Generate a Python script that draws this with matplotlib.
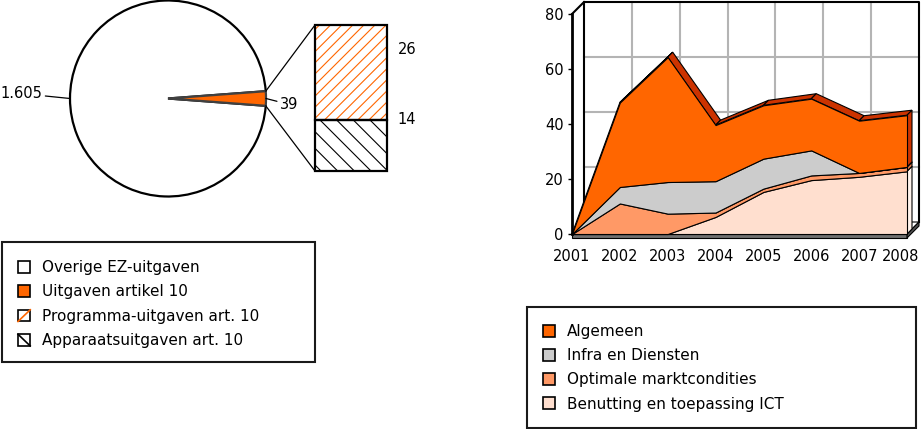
import matplotlib
matplotlib.use('Agg')
import matplotlib.pyplot as plt
import numpy as np
from matplotlib.patches import Patch, Polygon, Rectangle, ConnectionPatch
from matplotlib.lines import Line2D
from matplotlib.transforms import IdentityTransform, ScaledTranslation
from matplotlib.legend_handler import HandlerBase


# Data: pie (left)
pie_names = ['Overige EZ-uitgaven', 'Uitgaven artikel 10']
pie_values = [1605, 39]
pie_texts = ['1.605', '39']
split_names = ['Programma-uitgaven art. 10', 'Apparaatsuitgaven art. 10']
split_values = [26, 14]

# Data: 3D area chart (right), stacked bottom -> top is ICT, Optimale, Infra, Algemeen
years = ['2001', '2002', '2003', '2004', '2005', '2006', '2007', '2008']
algemeen = [0, 30.7, 45.4, 20.4, 19.4, 18.8, 19.0, 18.8]
infra = [0, 6.0, 11.5, 11.4, 10.9, 9.1, 0, 0]
optimale = [0, 11.1, 7.4, 1.6, 1.2, 1.7, 1.4, 1.6]
ict = [0, 0, 0, 6.2, 15.3, 19.6, 20.8, 22.8]
area_names = ['Algemeen', 'Infra en Diensten', 'Optimale marktcondities', 'Benutting en toepassing ICT']
yticks = [0, 20, 40, 60, 80]

ORANGE = '#ff6600'
front_colors = ['#ff6600', '#cccccc', '#ff9966', '#ffdfcf']
top_colors = ['#cc3300', '#999999', '#e07a4c', '#fff3ec']

W, H = 921, 429
plt.rcParams['hatch.linewidth'] = 0.8
fig = plt.figure(figsize=(W / 100, H / 100), dpi=100)


def box(x0, y0, x1, y1):
    # pixel box (top-down) -> figure rect
    return [x0 / W, 1 - y1 / H, (x1 - x0) / W, (y1 - y0) / H]


class DiagHandler(HandlerBase):
    # legend square with one diagonal hatch stroke
    def __init__(self, color, rising):
        super().__init__()
        self.color = color
        self.rising = rising

    def create_artists(self, legend, orig_handle, xdescent, ydescent, width, height,
                       fontsize, trans):
        x0, y0 = -xdescent, -ydescent
        r = Rectangle((x0, y0), width, height, fc='white', ec='black', lw=1.2, transform=trans)
        ys = [y0, y0 + height] if self.rising else [y0 + height, y0]
        ln = Line2D([x0, x0 + width], ys, color=self.color, lw=1.2, transform=trans)
        return [r, ln]


# ---------------- Pie ----------------
ax1 = fig.add_axes(box(70, 0.5, 266, 196.5))
total = sum(pie_values)
start = -180 * pie_values[1] / total
wedges, _ = ax1.pie([pie_values[1], pie_values[0]], colors=[ORANGE, 'white'],
                    startangle=start, radius=1)
wedges[1].set(edgecolor='black', linewidth=1.6, zorder=1, clip_on=False)
wedges[0].set(edgecolor='#404040', linewidth=1.6, zorder=2, clip_on=False)
ax1.set_xlim(-1, 1)
ax1.set_ylim(-1, 1)

for w, txt, xyt, ha in [(wedges[1], pie_texts[0], (-1.28, 0.05), 'right'),
                        (wedges[0], pie_texts[1], (1.14, -0.06), 'left')]:
    mid = np.deg2rad((w.theta1 + w.theta2) / 2)
    ax1.annotate(txt, xy=(np.cos(mid), np.sin(mid)), xytext=xyt, ha=ha, va='center',
                 fontsize=10.5, annotation_clip=False,
                 arrowprops=dict(arrowstyle='-', lw=0.9, color='black',
                                 shrinkA=0, shrinkB=0))

# ---------------- Split bar ----------------
axb = fig.add_axes(box(315, 25, 387, 171))
axb.bar(0, split_values[1], width=1, color='white', edgecolor='black', hatch='\\\\', lw=0)
axb.bar(0, split_values[0], bottom=split_values[1], width=1, color='white',
        edgecolor=ORANGE, hatch='///', lw=0)
axb.bar(0, split_values[1], width=1, fill=False, edgecolor='black', lw=1.6, clip_on=False)
axb.bar(0, split_values[0], bottom=split_values[1], width=1, fill=False,
        edgecolor='black', lw=1.6, clip_on=False)
axb.set_xlim(-0.5, 0.5)
axb.set_ylim(0, sum(split_values))
axb.axis('off')
axb.text(1.15, 0.83, str(split_values[0]), transform=axb.transAxes, va='center', fontsize=10.5)
axb.text(1.15, 0.35, str(split_values[1]), transform=axb.transAxes, va='center', fontsize=10.5)

t1 = np.deg2rad(wedges[0].theta1)
t2 = np.deg2rad(wedges[0].theta2)
for ang, yb in [(t2, sum(split_values)), (t1, 0)]:
    fig.add_artist(ConnectionPatch(xyA=(np.cos(ang), np.sin(ang)), coordsA='data', axesA=ax1,
                                   xyB=(-0.5, yb), coordsB='data', axesB=axb,
                                   lw=0.9, color='black'))

# left legend
fig.add_artist(Rectangle((2 / W, 1 - 362 / H), 313 / W, 120 / H, transform=fig.transFigure,
                         fill=False, lw=1.5, ec='#1a1a1a'))
h_prog = Patch(fc='white', ec='black')
h_app = Patch(fc='white', ec='black')
h_left = [Patch(fc='white', ec='black', lw=1.2),
          Patch(fc=ORANGE, ec='black', lw=1.2),
          h_prog, h_app]
fig.legend(h_left, pie_names + split_names, loc='upper left',
           bbox_to_anchor=(18 / W, 1 - 260 / H), frameon=False, borderpad=0, borderaxespad=0,
           handlelength=0.8, handleheight=0.8, handletextpad=0.75, labelspacing=0.62,
           fontsize=11, handler_map={h_prog: DiagHandler(ORANGE, True),
                                     h_app: DiagHandler('black', False)})

# ---------------- 3D stacked area ----------------
ax2 = fig.add_axes(box(572, 14, 907, 234))
x = np.arange(len(years))
ax2.set_xlim(0, len(years) - 1)
ax2.set_ylim(yticks[0], yticks[-1])
ax2.patch.set_visible(False)
for s in ['top', 'right', 'bottom']:
    ax2.spines[s].set_visible(False)
ax2.spines['left'].set_linewidth(2)
ax2.spines['left'].set_zorder(5)
ax2.set_xticks(x, years)
ax2.set_yticks(yticks)
ax2.tick_params(axis='x', length=0, pad=11, labelsize=10.5)
ax2.tick_params(axis='y', length=3, width=1, pad=3, labelsize=10.5)
last = ax2.get_xticklabels()[-1]
last.set_transform(last.get_transform() + ScaledTranslation(-0.06, 0, fig.dpi_scale_trans))

BACK = 12   # depth of back wall, px
DEP = 5     # depth of the series, px
xmax, ymax = x[-1], yticks[-1]


def disp(xs, ys, d=0):
    pts = ax2.transData.transform(np.column_stack([np.atleast_1d(xs), np.atleast_1d(ys)]))
    return pts + [d, d]


def poly(pts, z, **kw):
    ax2.add_patch(Polygon(pts, closed=True, transform=IdentityTransform(), clip_on=False,
                          zorder=z, **kw))


def line(pts, z, **kw):
    ax2.add_line(Line2D(pts[:, 0], pts[:, 1], transform=IdentityTransform(), clip_on=False,
                        zorder=z, **kw))


# back wall + grid
poly(disp([0, xmax, xmax, 0], [0, 0, ymax, ymax], BACK), 0.1, fc='white', ec='none')
for xi in x[1:-1]:
    line(disp([xi, xi], [0, ymax], BACK), 0.2, color='#b4b4b4', lw=1.5)
for yv in yticks[1:-1]:
    line(disp([0, xmax], [yv, yv], BACK), 0.2, color='#b4b4b4', lw=1.5)
line(disp([0, 0, xmax, xmax], [0, ymax, ymax, 0], BACK), 0.3, color='black', lw=1.5)
line(np.vstack([disp(0, ymax), disp(0, ymax, BACK)]), 0.3, color='black', lw=1.5)

# floor plate
f0, f1 = disp(0, 0)[0], disp(xmax, 0)[0]
poly(np.array([f0, f1, f1 + BACK, f0 + BACK]), 0.4, fc='white', ec='black', lw=0.8)
poly(np.array([f0, f1, f1 - [0, 4], f0 - [0, 4]]), 0.5, fc='#707070', ec='black', lw=0.8)
poly(np.array([f1, f1 + BACK, f1 + [BACK, BACK - 4], f1 - [0, 4]]), 0.5,
     fc='#505050', ec='black', lw=0.8)

# stacked series, bottom -> top
stack = [ict, optimale, infra, algemeen]
fcols = front_colors[::-1]
tcols = top_colors[::-1]
levels = np.vstack([np.zeros(len(x)), np.cumsum(stack, axis=0)])

for k in range(len(stack)):
    lo, up = levels[k], levels[k + 1]
    F = disp(x, up)
    for i in range(len(x) - 1):
        poly(np.array([F[i], F[i + 1], F[i + 1] + DEP, F[i] + DEP]), 1,
             fc=tcols[k], ec='black', lw=0.8)
    a, b = disp(xmax, lo[-1])[0], disp(xmax, up[-1])[0]
    poly(np.array([a, b, b + DEP, a + DEP]), 1, fc=tcols[k], ec='black', lw=0.8)

for k in range(len(stack)):
    ax2.fill_between(x, levels[k], levels[k + 1], facecolor=fcols[k], edgecolor='black',
                     lw=0.8, zorder=2, clip_on=False)

# right legend
fig.add_artist(Rectangle((527 / W, 1 - 428 / H), 389 / W, 121 / H, transform=fig.transFigure,
                         fill=False, lw=1.5, ec='#1a1a1a'))
h_right = [Patch(fc=c, ec='black', lw=1.2) for c in front_colors]
fig.legend(h_right, area_names, loc='upper left',
           bbox_to_anchor=(543 / W, 1 - 324 / H), frameon=False, borderpad=0, borderaxespad=0,
           handlelength=0.8, handleheight=0.8, handletextpad=0.75, labelspacing=0.6,
           fontsize=11)

fig.savefig('out.png', dpi=100)
